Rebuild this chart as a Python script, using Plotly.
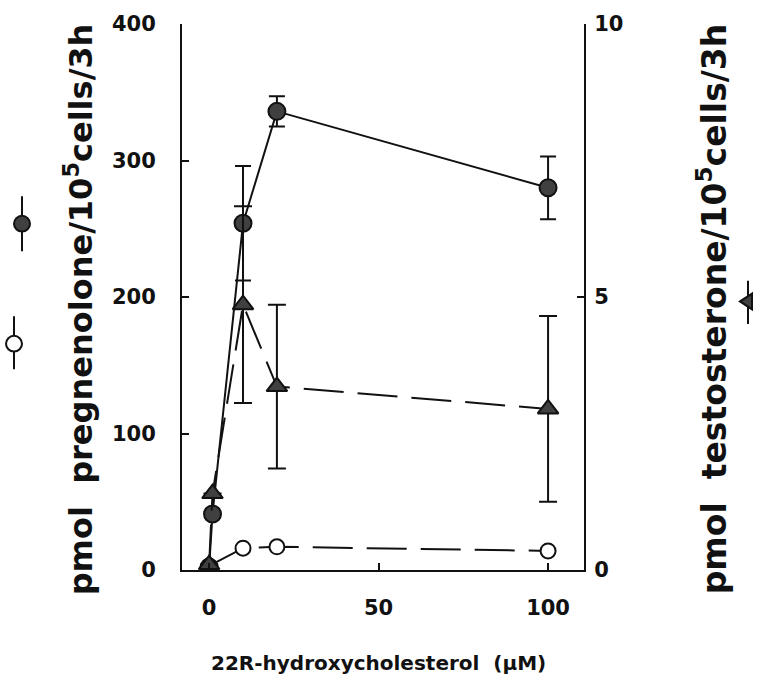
import plotly.graph_objects as go

# 22R-hydroxycholesterol dose (uM)
dose = [0, 1, 10, 20, 100]

# pregnenolone, filled circles (pmol/10^5 cells/3h, left axis)
preg_filled = [2, 41, 254, 336, 280]
preg_filled_err = [None, None, 42, 11, 23]

# pregnenolone, open circles (left axis)
dose_open = [0, 10, 20, 100]
preg_open = [3, 16, 17, 14]

# testosterone, triangles (pmol/10^5 cells/3h, right axis)
testo = [0.1, 1.4, 4.86, 3.36, 2.95]
testo_err = [None, None, 1.8, 1.5, 1.7]

x_ticks = [0, 50, 100]
left_ticks = [0, 100, 200, 300, 400]
right_ticks = [0, 5, 10]

W, H = 757, 685
ML, MR, MT, MB = 182, 173, 15, 115
PW, PH = W - ML - MR, H - MT - MB

FONT = "DejaVu Sans"
INK = "#111111"
FILL = "#404040"


def px(x):
    return (x - ML) / PW


def py(y):
    return (H - MB - y) / PH


fig = go.Figure()

fig.add_trace(go.Scatter(
    x=dose, y=preg_filled, mode="lines+markers", yaxis="y",
    line=dict(color=INK, width=2),
    marker=dict(symbol="circle", size=17, color=FILL, line=dict(color=INK, width=2)),
    error_y=dict(type="data", array=preg_filled_err, color=INK, thickness=2, width=8),
    showlegend=False,
))

fig.add_trace(go.Scatter(
    x=dose_open, y=preg_open, mode="lines+markers", yaxis="y",
    line=dict(color=INK, width=2, dash="40px,14px"),
    marker=dict(symbol="circle", size=15, color="white", line=dict(color=INK, width=2)),
    showlegend=False,
))

fig.add_trace(go.Scatter(
    x=dose, y=testo, mode="lines+markers", yaxis="y2",
    line=dict(color=INK, width=2, dash="40px,14px"),
    marker=dict(symbol="triangle-up", size=18, color=FILL, line=dict(color=INK, width=2)),
    error_y=dict(type="data", array=testo_err, color=INK, thickness=2, width=9),
    showlegend=False,
))

tickfont = dict(family=FONT, size=21, color=INK, weight="bold")
axis_common = dict(
    showline=True, linecolor=INK, linewidth=2, showgrid=False, zeroline=False,
    ticks="inside", ticklen=7, tickwidth=2, tickcolor=INK, tickfont=tickfont,
)

fig.update_layout(
    width=W, height=H,
    margin=dict(l=ML, r=MR, t=MT, b=MB),
    paper_bgcolor="white", plot_bgcolor="white",
    xaxis=dict(range=[-8, 110.6], tickvals=x_ticks, ticklabelstandoff=18, **axis_common),
    yaxis=dict(range=[0, 400], tickvals=left_ticks, ticklabelstandoff=20, **axis_common),
    yaxis2=dict(range=[0, 10], tickvals=right_ticks, overlaying="y", side="right",
                ticklabelstandoff=4, **axis_common),
)

fig.add_annotation(
    text="pmol  pregnenolone/10<sup>5</sup>cells/3h", textangle=-90,
    xref="paper", yref="paper", x=px(79), y=py(305),
    xanchor="center", yanchor="middle",
    showarrow=False, font=dict(family=FONT, size=32, color=INK, weight="bold"),
)
fig.add_annotation(
    text="pmol  testosterone/10<sup>5</sup>cells/3h", textangle=-90,
    xref="paper", yref="paper", x=px(712), y=py(305),
    xanchor="center", yanchor="middle",
    showarrow=False, font=dict(family=FONT, size=33, color=INK, weight="bold"),
)
fig.add_annotation(
    text="22R-hydroxycholesterol  (\u03bcM)",
    xref="paper", yref="paper", x=px(378), y=py(665),
    xanchor="center", yanchor="middle",
    showarrow=False, font=dict(family=FONT, size=20, color=INK, weight="bold"),
)

# symbol keys set beside the rotated axis titles
shapes = []


def key_line(xc, y0, y1):
    shapes.append(dict(type="line", xref="paper", yref="paper",
                       x0=px(xc), x1=px(xc), y0=py(y0), y1=py(y1),
                       line=dict(color=INK, width=2)))


def key_circle(xc, yc, r, fill):
    shapes.append(dict(type="circle", xref="paper", yref="paper",
                       x0=px(xc - r), x1=px(xc + r), y0=py(yc + r), y1=py(yc - r),
                       fillcolor=fill, line=dict(color=INK, width=2)))


key_line(22, 190, 246)
key_circle(22, 218, 8, FILL)
key_line(14, 312, 366)
key_circle(14, 340, 8, "white")

key_line(748, 276, 320)
tri = "M {} {} L {} {} L {} {} Z".format(
    px(740), py(297), px(752), py(289), px(752), py(305))
shapes.append(dict(type="path", xref="paper", yref="paper", path=tri,
                   fillcolor=FILL, line=dict(color=INK, width=2)))

fig.update_layout(shapes=shapes)

fig.write_html("out.html")
